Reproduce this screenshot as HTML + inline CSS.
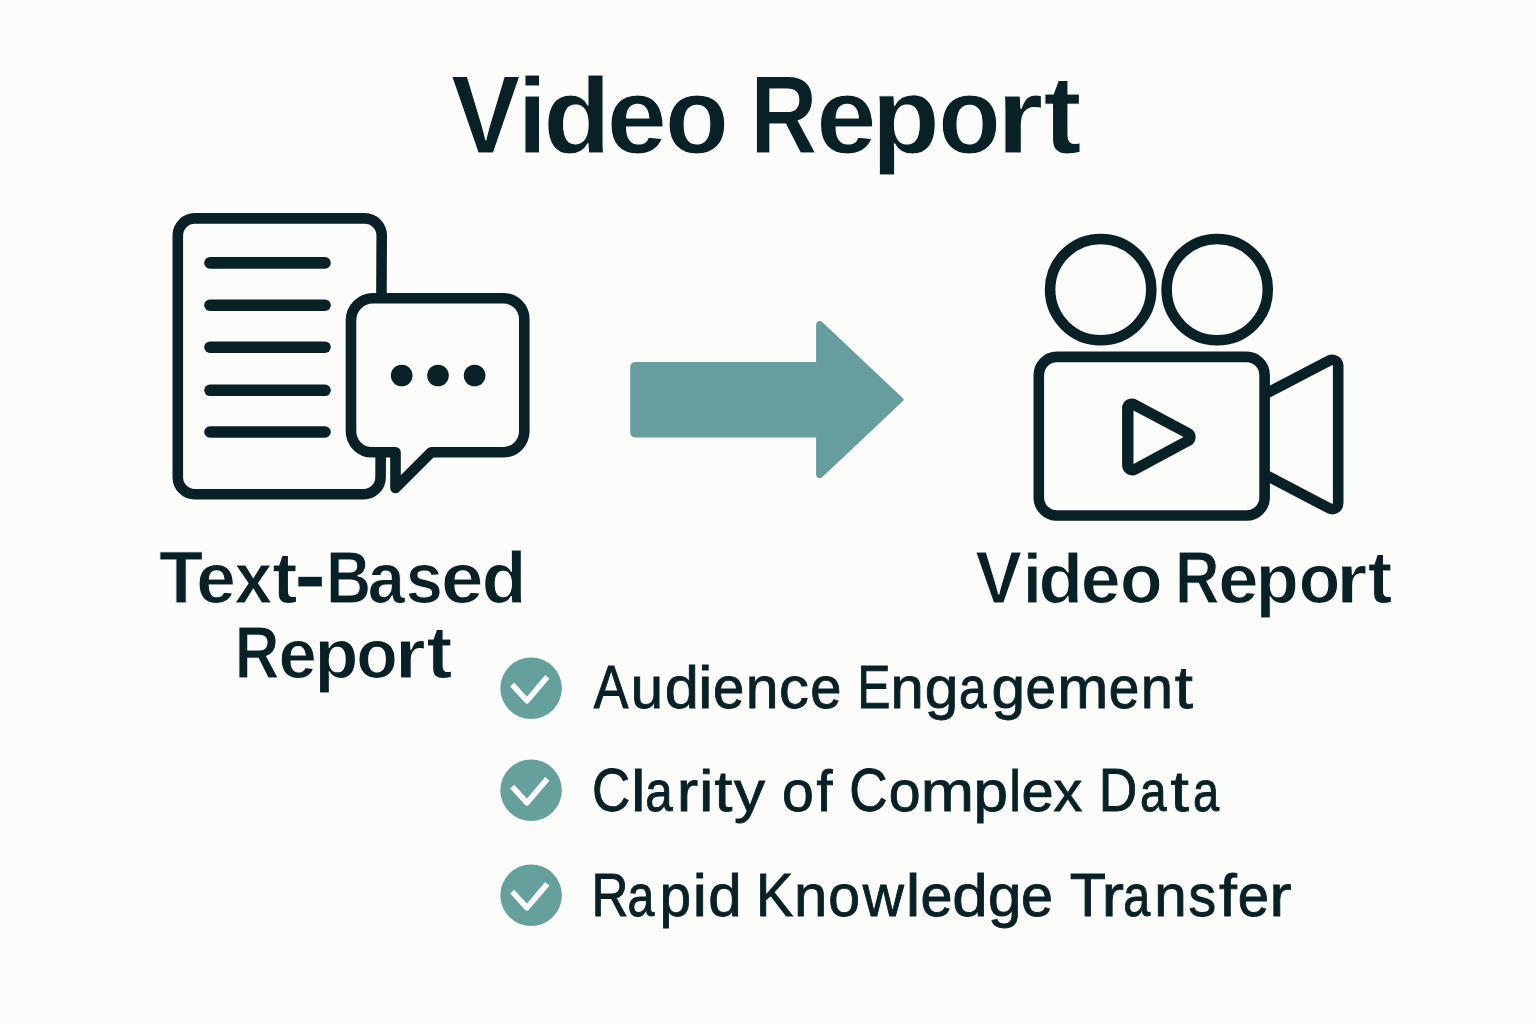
<!DOCTYPE html>
<html>
<head>
<meta charset="utf-8">
<style>
html,body{margin:0;padding:0;background:#FCFCFA;}
body{width:1536px;height:1024px;overflow:hidden;position:relative;}
svg{position:absolute;left:0;top:0;display:block;}
text{font-family:"Liberation Sans",sans-serif;fill:#082127;}
</style>
</head>
<body>
<svg width="1536" height="1024" viewBox="0 0 1536 1024">
<rect x="0" y="0" width="1536" height="1024" fill="#FCFCFA"/>
<!-- Title -->
<text transform="translate(450.89 152.80) scale(0.9505 1.0128)" font-size="109.50" font-weight="bold" stroke="#FCFCFA" stroke-width="1.00" vector-effect="non-scaling-stroke">V</text>
<text transform="translate(517.47 152.80) scale(0.9718 0.9844)" font-size="109.50" font-weight="bold" stroke="#FCFCFA" stroke-width="1.00" vector-effect="non-scaling-stroke">i</text>
<text transform="translate(543.37 152.80) scale(1.0095 0.9844)" font-size="109.50" font-weight="bold" stroke="#FCFCFA" stroke-width="1.00" vector-effect="non-scaling-stroke">d</text>
<text transform="translate(606.78 152.80) scale(0.9872 0.9844)" font-size="109.50" font-weight="bold" stroke="#FCFCFA" stroke-width="1.00" vector-effect="non-scaling-stroke">e</text>
<text transform="translate(664.92 152.80) scale(0.9549 0.9844)" font-size="109.50" font-weight="bold" stroke="#FCFCFA" stroke-width="1.00" vector-effect="non-scaling-stroke">o</text>
<text transform="translate(750.37 152.80) scale(0.8503 1.0128)" font-size="109.50" font-weight="bold" stroke="#FCFCFA" stroke-width="1.00" vector-effect="non-scaling-stroke">R</text>
<text transform="translate(816.17 152.80) scale(0.9891 0.9844)" font-size="109.50" font-weight="bold" stroke="#FCFCFA" stroke-width="1.00" vector-effect="non-scaling-stroke">e</text>
<text transform="translate(871.52 152.80) scale(1.0222 0.9844)" font-size="109.50" font-weight="bold" stroke="#FCFCFA" stroke-width="1.00" vector-effect="non-scaling-stroke">p</text>
<text transform="translate(938.30 152.80) scale(0.9343 0.9844)" font-size="109.50" font-weight="bold" stroke="#FCFCFA" stroke-width="1.00" vector-effect="non-scaling-stroke">o</text>
<text transform="translate(996.38 152.80) scale(1.0967 0.9844)" font-size="109.50" font-weight="bold" stroke="#FCFCFA" stroke-width="1.00" vector-effect="non-scaling-stroke">r</text>
<text transform="translate(1043.41 152.80) scale(1.0417 1.0108)" font-size="109.50" font-weight="bold" stroke="#FCFCFA" stroke-width="1.00" vector-effect="non-scaling-stroke">t</text>
<!-- Document icon -->
<g fill="none" stroke="#082127" stroke-width="10.6" stroke-linejoin="round" stroke-linecap="round">
<path d="M177.80,235.40 A17.00,17.00 0 0 1 194.80,218.40 L364.72,218.40 A17.00,17.00 0 0 1 381.72,235.48 L380.58,477.38 A17.00,17.00 0 0 1 363.58,494.30 L194.80,494.30 A17.00,17.00 0 0 1 177.80,477.30 Z" fill="#FCFCFA"/>
<g stroke-width="11.6">
<line x1="210" y1="262.9" x2="325" y2="262.9"/>
<line x1="210" y1="305.2" x2="325" y2="305.2"/>
<line x1="210" y1="347.2" x2="325" y2="347.2"/>
<line x1="210" y1="390.3" x2="325" y2="390.3"/>
<line x1="210" y1="432.0" x2="325" y2="432.0"/>
</g>
<path d="M351.00,320.20 A22.00,22.00 0 0 1 373.00,298.20 L503.30,298.20 A21.00,21.00 0 0 1 524.30,319.20 L524.30,431.30 A21.00,21.00 0 0 1 503.30,452.30 L431.20,452.30 L395.50,488.00 L395.50,452.30 L372.00,452.30 A21.00,21.00 0 0 1 351.00,431.30 Z" fill="#FCFCFA"/>
</g>
<g fill="#082127">
<circle cx="401.7" cy="375.5" r="10.8"/>
<circle cx="438" cy="375.5" r="10.8"/>
<circle cx="474.6" cy="375.5" r="10.8"/>
</g>
<!-- Arrow -->
<path d="M630.20,367.00 A5.00,5.00 0 0 1 635.20,362.00 L816.10,362.00 L816.10,324.64 A3.60,3.60 0 0 1 822.17,322.02 L902.96,398.14 A2.00,2.00 0 0 1 902.96,401.06 L822.17,477.18 A3.60,3.60 0 0 1 816.10,474.56 L816.10,437.50 L635.20,437.50 A5.00,5.00 0 0 1 630.20,432.50 Z" fill="#659E9C"/>
<!-- Camera -->
<path d="M1122.10,408.08 A9.60,9.60 0 0 1 1136.21,399.61 L1190.56,428.52 A9.60,9.60 0 0 1 1190.60,445.45 L1137.13,474.21 A10.20,10.20 0 0 1 1122.10,465.23 Z M1133.5,410.4 L1133.5,463.9 L1183.5,437 Z" fill="#082127" fill-rule="evenodd"/>
<g fill="none" stroke="#082127" stroke-width="10.6" stroke-linejoin="round" stroke-linecap="round">
<circle cx="1100.7" cy="289.6" r="50.6"/>
<circle cx="1217.2" cy="289.6" r="50.6"/>
<rect x="1038.8" y="356.9" width="225.8" height="158.6" rx="18" ry="18"/>
<path d="M1267.00,393.05 L1329.43,360.56 A6.00,6.00 0 0 1 1338.20,365.89 L1338.20,503.09 A6.00,6.00 0 0 1 1329.42,508.41 L1267.00,475.75"/>

</g>

<!-- Labels -->
<text transform="translate(159.09 602.80) scale(0.9978 1.0205)" font-size="72.50" font-weight="bold" stroke="#FCFCFA" stroke-width="1.00" vector-effect="non-scaling-stroke">T</text>
<text transform="translate(196.22 602.80) scale(0.9825 0.9895)" font-size="72.50" font-weight="bold" stroke="#FCFCFA" stroke-width="1.00" vector-effect="non-scaling-stroke">e</text>
<text transform="translate(234.44 602.80) scale(0.9365 0.9895)" font-size="72.50" font-weight="bold" stroke="#FCFCFA" stroke-width="1.00" vector-effect="non-scaling-stroke">x</text>
<text transform="translate(272.28 602.80) scale(1.0414 0.9895)" font-size="72.50" font-weight="bold" stroke="#FCFCFA" stroke-width="1.00" vector-effect="non-scaling-stroke">t</text>
<text transform="translate(294.12 604.57) scale(1.3364 1.2619)" font-size="72.50" font-weight="bold" stroke="#FCFCFA" stroke-width="1.00" vector-effect="non-scaling-stroke">-</text>
<text transform="translate(325.92 602.80) scale(0.8617 1.0205)" font-size="72.50" font-weight="bold" stroke="#FCFCFA" stroke-width="1.00" vector-effect="non-scaling-stroke">B</text>
<text transform="translate(367.74 602.80) scale(0.9209 0.9895)" font-size="72.50" font-weight="bold" stroke="#FCFCFA" stroke-width="1.00" vector-effect="non-scaling-stroke">a</text>
<text transform="translate(405.66 602.80) scale(0.9196 0.9895)" font-size="72.50" font-weight="bold" stroke="#FCFCFA" stroke-width="1.00" vector-effect="non-scaling-stroke">s</text>
<text transform="translate(440.92 602.80) scale(1.0540 0.9895)" font-size="72.50" font-weight="bold" stroke="#FCFCFA" stroke-width="1.00" vector-effect="non-scaling-stroke">e</text>
<text transform="translate(481.70 602.80) scale(1.0100 0.9895)" font-size="72.50" font-weight="bold" stroke="#FCFCFA" stroke-width="1.00" vector-effect="non-scaling-stroke">d</text>
<text transform="translate(234.66 678.10) scale(0.8540 1.0104)" font-size="72.50" font-weight="bold" stroke="#FCFCFA" stroke-width="1.00" vector-effect="non-scaling-stroke">R</text>
<text transform="translate(278.51 678.10) scale(0.9483 0.9587)" font-size="72.50" font-weight="bold" stroke="#FCFCFA" stroke-width="1.00" vector-effect="non-scaling-stroke">e</text>
<text transform="translate(314.56 678.10) scale(0.9909 0.9587)" font-size="72.50" font-weight="bold" stroke="#FCFCFA" stroke-width="1.00" vector-effect="non-scaling-stroke">p</text>
<text transform="translate(356.35 678.10) scale(0.9373 0.9587)" font-size="72.50" font-weight="bold" stroke="#FCFCFA" stroke-width="1.00" vector-effect="non-scaling-stroke">o</text>
<text transform="translate(395.02 678.10) scale(1.0834 0.9587)" font-size="72.50" font-weight="bold" stroke="#FCFCFA" stroke-width="1.00" vector-effect="non-scaling-stroke">r</text>
<text transform="translate(426.55 678.10) scale(1.0682 1.0276)" font-size="72.50" font-weight="bold" stroke="#FCFCFA" stroke-width="1.00" vector-effect="non-scaling-stroke">t</text>
<text transform="translate(975.22 603.10) scale(0.9669 1.0145)" font-size="72.50" font-weight="bold" stroke="#FCFCFA" stroke-width="1.00" vector-effect="non-scaling-stroke">V</text>
<text transform="translate(1022.67 603.10) scale(0.9550 0.9664)" font-size="72.50" font-weight="bold" stroke="#FCFCFA" stroke-width="1.00" vector-effect="non-scaling-stroke">i</text>
<text transform="translate(1038.51 603.10) scale(1.0046 0.9664)" font-size="72.50" font-weight="bold" stroke="#FCFCFA" stroke-width="1.00" vector-effect="non-scaling-stroke">d</text>
<text transform="translate(1080.70 603.10) scale(0.9883 0.9664)" font-size="72.50" font-weight="bold" stroke="#FCFCFA" stroke-width="1.00" vector-effect="non-scaling-stroke">e</text>
<text transform="translate(1119.98 603.10) scale(0.9606 0.9664)" font-size="72.50" font-weight="bold" stroke="#FCFCFA" stroke-width="1.00" vector-effect="non-scaling-stroke">o</text>
<text transform="translate(1175.07 603.10) scale(0.8518 1.0145)" font-size="72.50" font-weight="bold" stroke="#FCFCFA" stroke-width="1.00" vector-effect="non-scaling-stroke">R</text>
<text transform="translate(1218.37 603.10) scale(0.9997 0.9664)" font-size="72.50" font-weight="bold" stroke="#FCFCFA" stroke-width="1.00" vector-effect="non-scaling-stroke">e</text>
<text transform="translate(1255.86 603.10) scale(0.9717 0.9664)" font-size="72.50" font-weight="bold" stroke="#FCFCFA" stroke-width="1.00" vector-effect="non-scaling-stroke">p</text>
<text transform="translate(1298.65 603.10) scale(0.9373 0.9664)" font-size="72.50" font-weight="bold" stroke="#FCFCFA" stroke-width="1.00" vector-effect="non-scaling-stroke">o</text>
<text transform="translate(1336.16 603.10) scale(1.0968 0.9664)" font-size="72.50" font-weight="bold" stroke="#FCFCFA" stroke-width="1.00" vector-effect="non-scaling-stroke">r</text>
<text transform="translate(1367.80 603.10) scale(1.0146 1.0128)" font-size="72.50" font-weight="bold" stroke="#FCFCFA" stroke-width="1.00" vector-effect="non-scaling-stroke">t</text>
<!-- Check list -->
  <g fill="#65A09C">
    <circle cx="531.1" cy="688.3" r="30.8"/>
    <circle cx="531.1" cy="790.3" r="30.8"/>
    <circle cx="531.1" cy="895.3" r="30.8"/>
  </g>
  <g fill="none" stroke="#FFFFFF" stroke-width="5.5" stroke-linejoin="round" stroke-linecap="butt">
    <path d="M512.2,684.6 L527,700.8 L547.3,676.9"/>
    <path d="M512.2,786.6 L527,802.8 L547.3,778.9"/>
    <path d="M512.2,891.6 L527,907.8 L547.3,883.9"/>
  </g>
  
<g><text transform="translate(593.75 707.85) scale(0.8325 0.9791)" font-size="62.50" font-weight="normal" stroke="#082127" stroke-width="0.90" vector-effect="non-scaling-stroke">A</text>
<text transform="translate(630.87 707.85) scale(0.9303 0.9337)" font-size="62.50" font-weight="normal" stroke="#082127" stroke-width="0.90" vector-effect="non-scaling-stroke">u</text>
<text transform="translate(664.67 707.85) scale(0.9820 0.9337)" font-size="62.50" font-weight="normal" stroke="#082127" stroke-width="0.90" vector-effect="non-scaling-stroke">d</text>
<text transform="translate(697.88 707.85) scale(1.0500 0.9337)" font-size="62.50" font-weight="normal" stroke="#082127" stroke-width="0.90" vector-effect="non-scaling-stroke">i</text>
<text transform="translate(713.06 707.85) scale(0.9002 0.9337)" font-size="62.50" font-weight="normal" stroke="#082127" stroke-width="0.90" vector-effect="non-scaling-stroke">e</text>
<text transform="translate(745.64 707.85) scale(0.9416 0.9337)" font-size="62.50" font-weight="normal" stroke="#082127" stroke-width="0.90" vector-effect="non-scaling-stroke">n</text>
<text transform="translate(779.12 707.85) scale(0.9537 0.9337)" font-size="62.50" font-weight="normal" stroke="#082127" stroke-width="0.90" vector-effect="non-scaling-stroke">c</text>
<text transform="translate(810.27 707.85) scale(0.8968 0.9337)" font-size="62.50" font-weight="normal" stroke="#082127" stroke-width="0.90" vector-effect="non-scaling-stroke">e</text>
<text transform="translate(857.16 707.85) scale(0.7971 0.9791)" font-size="62.50" font-weight="normal" stroke="#082127" stroke-width="0.90" vector-effect="non-scaling-stroke">E</text>
<text transform="translate(890.48 707.85) scale(0.9567 0.9337)" font-size="62.50" font-weight="normal" stroke="#082127" stroke-width="0.90" vector-effect="non-scaling-stroke">n</text>
<text transform="translate(924.71 707.85) scale(0.9677 0.9337)" font-size="62.50" font-weight="normal" stroke="#082127" stroke-width="0.90" vector-effect="non-scaling-stroke">g</text>
<text transform="translate(959.04 707.85) scale(0.7943 0.9337)" font-size="62.50" font-weight="normal" stroke="#082127" stroke-width="0.90" vector-effect="non-scaling-stroke">a</text>
<text transform="translate(991.41 707.85) scale(0.9677 0.9337)" font-size="62.50" font-weight="normal" stroke="#082127" stroke-width="0.90" vector-effect="non-scaling-stroke">g</text>
<text transform="translate(1025.42 707.85) scale(0.8763 0.9337)" font-size="62.50" font-weight="normal" stroke="#082127" stroke-width="0.90" vector-effect="non-scaling-stroke">e</text>
<text transform="translate(1057.27 707.85) scale(0.9819 0.9337)" font-size="62.50" font-weight="normal" stroke="#082127" stroke-width="0.90" vector-effect="non-scaling-stroke">m</text>
<text transform="translate(1108.81 707.85) scale(0.8797 0.9337)" font-size="62.50" font-weight="normal" stroke="#082127" stroke-width="0.90" vector-effect="non-scaling-stroke">e</text>
<text transform="translate(1140.80 707.85) scale(0.9265 0.9337)" font-size="62.50" font-weight="normal" stroke="#082127" stroke-width="0.90" vector-effect="non-scaling-stroke">n</text>
<text transform="translate(1174.66 707.85) scale(1.0463 0.9337)" font-size="62.50" font-weight="normal" stroke="#082127" stroke-width="0.90" vector-effect="non-scaling-stroke">t</text>
<text transform="translate(592.06 810.55) scale(0.8464 0.9907)" font-size="62.50" font-weight="normal" stroke="#082127" stroke-width="0.90" vector-effect="non-scaling-stroke">C</text>
<text transform="translate(630.99 810.55) scale(1.0500 0.9277)" font-size="62.50" font-weight="normal" stroke="#082127" stroke-width="0.90" vector-effect="non-scaling-stroke">l</text>
<text transform="translate(645.16 810.55) scale(0.7881 0.9277)" font-size="62.50" font-weight="normal" stroke="#082127" stroke-width="0.90" vector-effect="non-scaling-stroke">a</text>
<text transform="translate(676.77 810.55) scale(1.0304 0.9277)" font-size="62.50" font-weight="normal" stroke="#082127" stroke-width="0.90" vector-effect="non-scaling-stroke">r</text>
<text transform="translate(698.98 810.55) scale(1.0500 0.9277)" font-size="62.50" font-weight="normal" stroke="#082127" stroke-width="0.90" vector-effect="non-scaling-stroke">i</text>
<text transform="translate(714.48 810.55) scale(1.0275 0.9277)" font-size="62.50" font-weight="normal" stroke="#082127" stroke-width="0.90" vector-effect="non-scaling-stroke">t</text>
<text transform="translate(733.90 810.55) scale(0.9943 0.9277)" font-size="62.50" font-weight="normal" stroke="#082127" stroke-width="0.90" vector-effect="non-scaling-stroke">y</text>
<text transform="translate(781.95 810.55) scale(0.9149 0.9277)" font-size="62.50" font-weight="normal" stroke="#082127" stroke-width="0.90" vector-effect="non-scaling-stroke">o</text>
<text transform="translate(816.54 810.55) scale(0.9173 0.9277)" font-size="62.50" font-weight="normal" stroke="#082127" stroke-width="0.90" vector-effect="non-scaling-stroke">f</text>
<text transform="translate(849.26 810.55) scale(0.8489 0.9907)" font-size="62.50" font-weight="normal" stroke="#082127" stroke-width="0.90" vector-effect="non-scaling-stroke">C</text>
<text transform="translate(888.85 810.55) scale(0.9149 0.9277)" font-size="62.50" font-weight="normal" stroke="#082127" stroke-width="0.90" vector-effect="non-scaling-stroke">o</text>
<text transform="translate(920.80 810.55) scale(1.0230 0.9277)" font-size="62.50" font-weight="normal" stroke="#082127" stroke-width="0.90" vector-effect="non-scaling-stroke">m</text>
<text transform="translate(973.55 810.55) scale(0.9926 0.9277)" font-size="62.50" font-weight="normal" stroke="#082127" stroke-width="0.90" vector-effect="non-scaling-stroke">p</text>
<text transform="translate(1009.22 810.55) scale(0.8374 0.9277)" font-size="62.50" font-weight="normal" stroke="#082127" stroke-width="0.90" vector-effect="non-scaling-stroke">l</text>
<text transform="translate(1021.60 810.55) scale(0.9241 0.9277)" font-size="62.50" font-weight="normal" stroke="#082127" stroke-width="0.90" vector-effect="non-scaling-stroke">e</text>
<text transform="translate(1053.40 810.55) scale(0.9204 0.9277)" font-size="62.50" font-weight="normal" stroke="#082127" stroke-width="0.90" vector-effect="non-scaling-stroke">x</text>
<text transform="translate(1098.77 810.55) scale(0.8536 0.9907)" font-size="62.50" font-weight="normal" stroke="#082127" stroke-width="0.90" vector-effect="non-scaling-stroke">D</text>
<text transform="translate(1139.92 810.55) scale(0.7662 0.9277)" font-size="62.50" font-weight="normal" stroke="#082127" stroke-width="0.90" vector-effect="non-scaling-stroke">a</text>
<text transform="translate(1170.55 810.55) scale(1.0589 0.9277)" font-size="62.50" font-weight="normal" stroke="#082127" stroke-width="0.90" vector-effect="non-scaling-stroke">t</text>
<text transform="translate(1193.06 810.55) scale(0.7507 0.9277)" font-size="62.50" font-weight="normal" stroke="#082127" stroke-width="0.90" vector-effect="non-scaling-stroke">a</text>
<text transform="translate(591.45 916.15) scale(0.8192 0.9837)" font-size="62.50" font-weight="normal" stroke="#082127" stroke-width="0.90" vector-effect="non-scaling-stroke">R</text>
<text transform="translate(627.40 916.15) scale(0.7725 0.9426)" font-size="62.50" font-weight="normal" stroke="#082127" stroke-width="0.90" vector-effect="non-scaling-stroke">a</text>
<text transform="translate(659.72 916.15) scale(0.9001 0.9426)" font-size="62.50" font-weight="normal" stroke="#082127" stroke-width="0.90" vector-effect="non-scaling-stroke">p</text>
<text transform="translate(692.43 916.15) scale(1.0500 0.9426)" font-size="62.50" font-weight="normal" stroke="#082127" stroke-width="0.90" vector-effect="non-scaling-stroke">i</text>
<text transform="translate(708.23 916.15) scale(0.9606 0.9426)" font-size="62.50" font-weight="normal" stroke="#082127" stroke-width="0.90" vector-effect="non-scaling-stroke">d</text>
<text transform="translate(756.06 916.15) scale(0.8952 0.9837)" font-size="62.50" font-weight="normal" stroke="#082127" stroke-width="0.90" vector-effect="non-scaling-stroke">K</text>
<text transform="translate(793.88 916.15) scale(0.9567 0.9426)" font-size="62.50" font-weight="normal" stroke="#082127" stroke-width="0.90" vector-effect="non-scaling-stroke">n</text>
<text transform="translate(828.25 916.15) scale(0.9149 0.9426)" font-size="62.50" font-weight="normal" stroke="#082127" stroke-width="0.90" vector-effect="non-scaling-stroke">o</text>
<text transform="translate(862.83 916.15) scale(0.9123 0.9426)" font-size="62.50" font-weight="normal" stroke="#082127" stroke-width="0.90" vector-effect="non-scaling-stroke">w</text>
<text transform="translate(905.79 916.15) scale(1.0500 0.9426)" font-size="62.50" font-weight="normal" stroke="#082127" stroke-width="0.90" vector-effect="non-scaling-stroke">l</text>
<text transform="translate(920.41 916.15) scale(0.9206 0.9426)" font-size="62.50" font-weight="normal" stroke="#082127" stroke-width="0.90" vector-effect="non-scaling-stroke">e</text>
<text transform="translate(952.37 916.15) scale(1.0211 0.9426)" font-size="62.50" font-weight="normal" stroke="#082127" stroke-width="0.90" vector-effect="non-scaling-stroke">d</text>
<text transform="translate(988.03 916.15) scale(0.9606 0.9426)" font-size="62.50" font-weight="normal" stroke="#082127" stroke-width="0.90" vector-effect="non-scaling-stroke">g</text>
<text transform="translate(1021.11 916.15) scale(0.9206 0.9426)" font-size="62.50" font-weight="normal" stroke="#082127" stroke-width="0.90" vector-effect="non-scaling-stroke">e</text>
<text transform="translate(1069.72 916.15) scale(0.9480 0.9837)" font-size="62.50" font-weight="normal" stroke="#082127" stroke-width="0.90" vector-effect="non-scaling-stroke">T</text>
<text transform="translate(1101.46 916.15) scale(1.0816 0.9426)" font-size="62.50" font-weight="normal" stroke="#082127" stroke-width="0.90" vector-effect="non-scaling-stroke">r</text>
<text transform="translate(1123.19 916.15) scale(0.7756 0.9426)" font-size="62.50" font-weight="normal" stroke="#082127" stroke-width="0.90" vector-effect="non-scaling-stroke">a</text>
<text transform="translate(1154.27 916.15) scale(0.9341 0.9426)" font-size="62.50" font-weight="normal" stroke="#082127" stroke-width="0.90" vector-effect="non-scaling-stroke">n</text>
<text transform="translate(1188.61 916.15) scale(0.8843 0.9426)" font-size="62.50" font-weight="normal" stroke="#082127" stroke-width="0.90" vector-effect="non-scaling-stroke">s</text>
<text transform="translate(1218.94 916.15) scale(1.0259 0.9426)" font-size="62.50" font-weight="normal" stroke="#082127" stroke-width="0.90" vector-effect="non-scaling-stroke">f</text>
<text transform="translate(1237.76 916.15) scale(0.9002 0.9426)" font-size="62.50" font-weight="normal" stroke="#082127" stroke-width="0.90" vector-effect="non-scaling-stroke">e</text>
<text transform="translate(1269.31 916.15) scale(1.0688 0.9426)" font-size="62.50" font-weight="normal" stroke="#082127" stroke-width="0.90" vector-effect="non-scaling-stroke">r</text></g>
</svg>
</body>
</html>
